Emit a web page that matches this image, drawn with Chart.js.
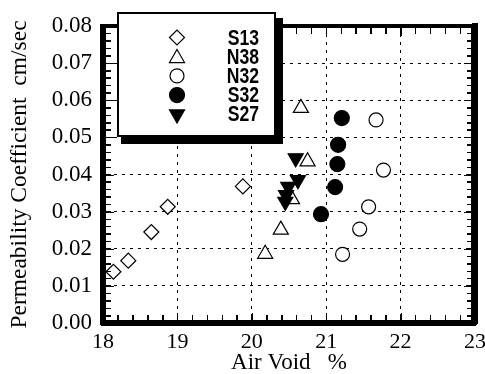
<!DOCTYPE html>
<html>
<head>
<meta charset="utf-8">
<script src="https://cdn.jsdelivr.net/npm/chart.js@4/dist/chart.umd.min.js"></script>
<style>
html,body{margin:0;padding:0;background:#fff;}
#wrap{width:485px;height:374px;}
</style>
</head>
<body>
<div id="wrap"><canvas id="c" width="485" height="374"></canvas></div>
<script>
// ---- data ----
const seriesNames = ["S13", "N38", "N32", "S32", "S27"];
const s13X = [18.14, 18.34, 18.65, 18.87, 19.88];
const s13Y = [0.0138, 0.0168, 0.0245, 0.0313, 0.0368];
const n38X = [20.18, 20.39, 20.54, 20.75, 20.66];
const n38Y = [0.0186, 0.0251, 0.0333, 0.0435, 0.0579];
const n32X = [21.22, 21.45, 21.57, 21.77, 21.67];
const n32Y = [0.0185, 0.0253, 0.0313, 0.0412, 0.0547];
const s32X = [20.93, 21.12, 21.15, 21.16, 21.21];
const s32Y = [0.0293, 0.0366, 0.0428, 0.0480, 0.0552];
const s27X = [20.45, 20.46, 20.49, 20.62, 20.59];
const s27Y = [0.0327, 0.0345, 0.0367, 0.0385, 0.0444];
const xTickLabels = [18, 19, 20, 21, 22, 23];
const yTickLabels = [0.00, 0.01, 0.02, 0.03, 0.04, 0.05, 0.06, 0.07, 0.08];

// minor tick positions (every 0.2 on x, every 0.002 on y)
const xMinor = [];
for (let i = 0; i <= 25; i++) xMinor.push(Math.round((18 + i * 0.2) * 10) / 10);
const yMinor = [];
for (let j = 0; j <= 40; j++) yMinor.push(Math.round(j * 2) / 1000);

const isMajorX = v => xTickLabels.some(t => Math.abs(t - v) < 1e-6);
const isMajorY = v => yTickLabels.some(t => Math.abs(t - v) < 1e-7);

const toPts = (xs, ys) => xs.map((v, i) => ({x: v, y: ys[i]}));

const styles = [
  {pointStyle: 'rectRot', radius: 7.5, fill: '#fff', rot: 0},
  {pointStyle: 'triangle', radius: 8.7, fill: '#fff', rot: 0},
  {pointStyle: 'circle', radius: 7, fill: '#fff', rot: 0},
  {pointStyle: 'circle', radius: 7.5, fill: '#000', rot: 0},
  {pointStyle: 'triangle', radius: 8.7, fill: '#000', rot: 180}
];
const dataSets = [toPts(s13X, s13Y), toPts(n38X, n38Y), toPts(n32X, n32Y), toPts(s32X, s32Y), toPts(s27X, s27Y)];

const datasets = dataSets.map((d, i) => ({
  label: seriesNames[i],
  data: d,
  xAxisID: 'x',
  yAxisID: 'y',
  pointStyle: styles[i].pointStyle,
  pointRadius: styles[i].radius,
  pointHoverRadius: styles[i].radius,
  pointRotation: styles[i].rot,
  backgroundColor: styles[i].fill,
  borderColor: '#000',
  borderWidth: 1.2,
  order: 4 - i
}));

function drawMarker(ctx, st, x, y) {
  ctx.save();
  ctx.fillStyle = st.fill;
  ctx.strokeStyle = '#000';
  ctx.lineWidth = 1.2;
  if (Chart.helpers && Chart.helpers.drawPoint) {
    Chart.helpers.drawPoint(ctx, {pointStyle: st.pointStyle, radius: st.radius, rotation: st.rot, borderWidth: 1.2}, x, y);
  } else {
    ctx.beginPath();
    ctx.arc(x, y, st.radius, 0, Math.PI * 2);
    ctx.fill(); ctx.stroke();
  }
  ctx.restore();
}

function drawFrame(chart) {
  const ctx = chart.ctx;
  const a = chart.chartArea;
  const sx = chart.scales.x, sy = chart.scales.y;
  ctx.save();
  ctx.setLineDash([]);
  ctx.fillStyle = '#000';
  xMinor.forEach(v => {
    const px = Math.round(sx.getPixelForValue(v));
    const len = isMajorX(v) ? 10 : 8;
    ctx.fillRect(px, a.bottom - len, 1, len);
    ctx.fillRect(px, a.top, 1, len);
  });
  yMinor.forEach(v => {
    const py = Math.round(sy.getPixelForValue(v));
    const len = isMajorY(v) ? 11 : 8;
    ctx.fillRect(a.left, py, len, 1);
    ctx.fillRect(a.right - len, py, len, 1);
  });
  ctx.fillRect(a.left - 3, a.top - 2, 5, a.bottom - a.top + 4);
  ctx.fillRect(a.right - 4, a.top - 2, 6, a.bottom - a.top + 4);
  ctx.fillRect(a.left - 3, a.top - 2, a.right - a.left + 5, 4);
  ctx.fillRect(a.left - 3, a.bottom - 3, a.right - a.left + 5, 5);
  ctx.restore();
}

function drawLegend(chart) {
  const ctx = chart.ctx;
  ctx.save();
  ctx.fillStyle = '#000';
  ctx.fillRect(121, 18, 162, 126);
  ctx.fillStyle = '#fff';
  ctx.fillRect(117, 12, 159, 125);
  ctx.strokeStyle = '#000';
  ctx.lineWidth = 2;
  ctx.strokeRect(118, 13, 157, 123);
  for (let i = 0; i < seriesNames.length; i++) {
    const yy = 37.5 + i * 19.2;
    drawMarker(ctx, styles[i], 177, yy + (i === 1 ? 1.5 : 0));
    ctx.save();
    ctx.translate(259, yy + 1);
    ctx.scale(0.8, 1);
    ctx.font = 'bold 22px "Liberation Sans", Arial, sans-serif';
    ctx.textAlign = 'right';
    ctx.textBaseline = 'middle';
    ctx.fillStyle = '#000';
    ctx.fillText(seriesNames[i], 0, 0);
    ctx.restore();
  }
  ctx.restore();
}

const legendPlugin = {
  id: 'boxLegend',
  afterDraw(chart) {
    try { drawFrame(chart); } catch (e) { /* frame is also drawn by the axes' borders */ }
    drawLegend(chart);
  }
};

const serif = '"Liberation Serif", "Times New Roman", serif';
const TL = -8;
const clear = 'rgba(0,0,0,0)';

function minorGrid(isMajor, onArea) {
  return {
    display: true,
    drawOnChartArea: onArea,
    color: c => (c.tick && isMajor(c.tick.value)) ? '#000' : clear,
    lineWidth: 1,
    drawTicks: true,
    tickLength: TL,
    tickWidth: 1,
    tickColor: '#000',
    tickBorderDash: []
  };
}

new Chart(document.getElementById('c'), {
  type: 'scatter',
  data: {datasets},
  options: {
    responsive: false,
    animation: false,
    devicePixelRatio: 1,
    layout: {padding: {left: 0, top: 26, right: 10, bottom: 0}},
    plugins: {legend: {display: false}, tooltip: {enabled: false}},
    scales: {
      x: {
        type: 'linear', position: 'bottom', min: 18, max: 23,
        afterBuildTicks: s => { s.ticks = xMinor.map(v => ({value: v})); },
        afterFit: s => { s.height = 51; s.paddingLeft = 0; s.paddingRight = 0; },
        ticks: {autoSkip: false, color: '#000', font: {family: serif, size: 22}, padding: 14, maxRotation: 0,
                callback: v => isMajorX(v) ? String(Math.round(v)) : ''},
        grid: minorGrid(isMajorX, true),
        border: {display: true, width: 5, color: '#000', dash: [3, 5]},
        title: {display: true, text: 'Air Void   %', color: '#000', font: {family: serif, size: 23, lineHeight: 1}, padding: {top: 0, bottom: 0}}
      },
      y: {
        type: 'linear', position: 'left', min: 0, max: 0.08,
        afterBuildTicks: s => { s.ticks = yMinor.map(v => ({value: v})); },
        afterFit: s => { s.width = 103; s.paddingTop = 0; s.paddingBottom = 0; },
        ticks: {autoSkip: false, color: '#000', font: {family: serif, size: 23}, padding: 19,
                callback: v => isMajorY(v) ? Number(v).toFixed(2) : ''},
        grid: minorGrid(isMajorY, true),
        border: {display: true, width: 5, color: '#000', dash: [3, 5]},
        title: {display: true, text: 'Permeability Coefficient  cm/sec', color: '#000', font: {family: serif, size: 23.5, lineHeight: 1}, padding: {top: 8, bottom: 0}}
      },
      x2: {
        type: 'linear', position: 'top', min: 18, max: 23,
        afterBuildTicks: s => { s.ticks = xMinor.map(v => ({value: v})); },
        afterFit: s => { s.height = 0; s.paddingLeft = 0; s.paddingRight = 0; },
        ticks: {display: false, autoSkip: false},
        grid: minorGrid(isMajorX, false),
        border: {display: true, width: 4, color: '#000'}
      },
      y2: {
        type: 'linear', position: 'right', min: 0, max: 0.08,
        afterBuildTicks: s => { s.ticks = yMinor.map(v => ({value: v})); },
        afterFit: s => { s.width = 0; s.paddingTop = 0; s.paddingBottom = 0; },
        ticks: {display: false, autoSkip: false},
        grid: minorGrid(isMajorY, false),
        border: {display: true, width: 6, color: '#000'}
      }
    }
  },
  plugins: [legendPlugin]
});
</script>
</body>
</html>
